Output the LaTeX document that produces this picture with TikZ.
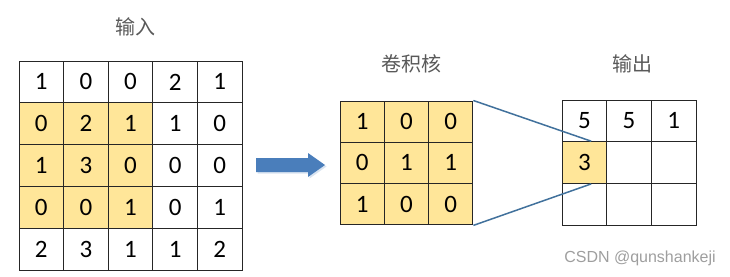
\documentclass[tikz,border=0pt]{standalone}
\usepackage{fontspec}
\newfontfamily\numfont{Carlito}
\newfontfamily\cjkfont{Noto Sans CJK SC}
\newfontfamily\wmfont{Liberation Sans}
\usetikzlibrary{calc, positioning}
\definecolor{hlyellow}{RGB}{255,230,153}
\definecolor{arrowblue}{RGB}{74,126,187}
\definecolor{linkblue}{RGB}{65,113,156}
\definecolor{titlegray}{RGB}{89,89,89}
\tikzset{
  cell/.style={draw=black!85, line width=1pt, minimum width=44.6pt, minimum height=41.8pt,
    inner sep=0pt, font=\numfont\fontsize{25}{25}\selectfont},
  title/.style={font=\cjkfont\fontsize{20}{20}\selectfont, text=titlegray},
}

\begin{document}
\begin{tikzpicture}[x=1pt, y=-1pt]
    % Khung ảnh
    \useasboundingbox (0,0) rectangle (730,276);

    % Ma trận đầu vào 5x5 (vùng 3x3 được tô màu)
    \foreach \row [count=\r from 0] in {{1,0,0,2,1},{0,2,1,1,0},{1,3,0,0,0},{0,0,1,0,1},{2,3,1,1,2}} {
        \foreach \v [count=\c from 0] in \row {
            \pgfmathtruncatemacro\hl{and(\r>0, and(\r<4, \c<3))}
            \ifnum\hl=1 \def\cellfill{hlyellow}\else\def\cellfill{white}\fi
            \node[cell, fill=\cellfill] (in-\r-\c) at (19+44.6*\c+22.3, 61+41.8*\r+20.9) {\v};
        }
    }
    \node[title] (in-title) at (135,27) {输入};

    % Mũi tên chuyển sang
    \fill[arrowblue!35, opacity=0.6] (257.5,159.5) -- (309.5,159.5) -- (309.5,154.5) -- (326.5,166.5)
        -- (309.5,178.5) -- (309.5,173.5) -- (257.5,173.5) -- cycle;
    \fill[arrowblue] (256,158) -- (308,158) -- (308,153) -- (325,165)
        -- (308,177) -- (308,172) -- (256,172) -- cycle;

    % Nhân tích chập 3x3
    \foreach \row [count=\r from 0] in {{1,0,0},{0,1,1},{1,0,0}} {
        \foreach \v [count=\c from 0] in \row {
            \node[cell, fill=hlyellow, minimum width=44.3pt, minimum height=41.3pt]
                (k-\r-\c) at (340+44.3*\c+22.15, 101+41.3*\r+20.65) {\v};
        }
    }
    \node[title] (k-title) at (411,64) {卷积核};

    % Ma trận đầu ra
    \foreach \row [count=\r from 0] in {{5,5,1},{3,{},{}},{{},{},{}}} {
        \foreach \v [count=\c from 0] in \row {
            \pgfmathtruncatemacro\hl{and(\r==1, \c==0)}
            \ifnum\hl=1 \def\cellfill{hlyellow}\else\def\cellfill{white}\fi
            \node[cell, fill=\cellfill, minimum height=41.7pt]
                (out-\r-\c) at (562+44.7*\c+22.35, 100+41.7*\r+20.85) {\v};
        }
    }
    \node[title] (out-title) at (632,64) {输出};

    % Đường nối nhân -> ô kết quả
    \coordinate (hit-top) at ($(out-1-0.north west)!0.65!(out-1-0.north east)$);
    \coordinate (hit-bot) at ($(out-1-0.south west)!0.65!(out-1-0.south east)$);
    \draw[linkblue, line width=1.5pt] (k-0-2.north east) -- (hit-top);
    \draw[linkblue, line width=1.5pt] (k-2-2.south east) -- (hit-bot);

    % Chữ mờ
    \node[font=\wmfont\fontsize{16}{16}\selectfont, text=black!38] (wm) at (640,258) {CSDN @qunshankeji};
\end{tikzpicture}
\end{document}
